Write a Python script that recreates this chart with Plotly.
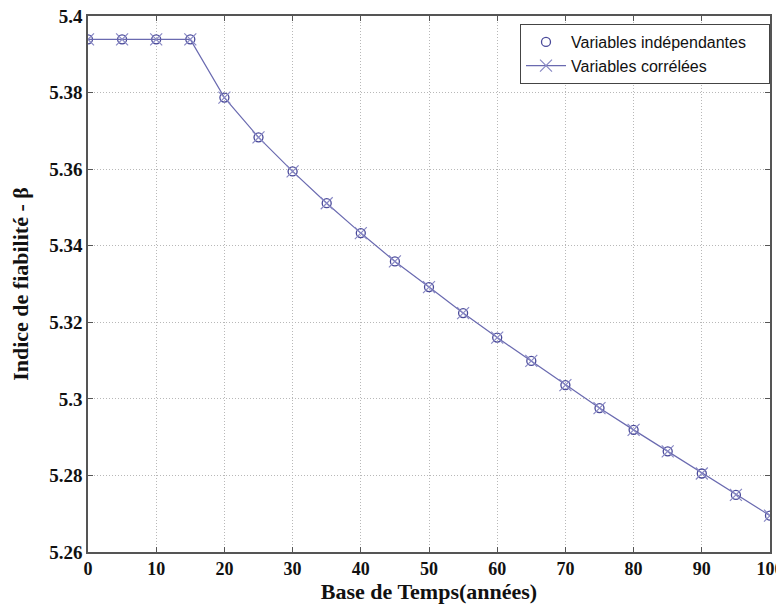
import plotly.graph_objects as go

annees = [0, 5, 10, 15, 20, 25, 30, 35, 40, 45, 50, 55, 60, 65, 70, 75, 80, 85, 90, 95, 100]
beta_indep = [5.3939, 5.3939, 5.3939, 5.3939, 5.3787, 5.3683, 5.3594, 5.3511, 5.3433, 5.3359,
              5.3292, 5.3224, 5.3160, 5.3099, 5.3036, 5.2976, 5.2919, 5.2863, 5.2805, 5.2749, 5.2695]
beta_corr = [5.3939, 5.3939, 5.3939, 5.3939, 5.3787, 5.3683, 5.3594, 5.3511, 5.3433, 5.3359,
             5.3292, 5.3224, 5.3160, 5.3099, 5.3036, 5.2976, 5.2919, 5.2863, 5.2805, 5.2749, 5.2695]
x_ticks = [0, 10, 20, 30, 40, 50, 60, 70, 80, 90, 100]
y_ticks = [5.26, 5.28, 5.30, 5.32, 5.34, 5.36, 5.38, 5.40]
y_ticktext = ["5.26", "5.28", "5.3", "5.32", "5.34", "5.36", "5.38", "5.4"]

SERIF = "Liberation Serif, Times New Roman, serif"
PAD = "\u00a0\u00a0\u00a0\u00a0"

fig = go.Figure()
fig.add_trace(go.Scatter(
    x=annees, y=beta_indep, mode="markers", name="Variables indépendantes" + PAD,
    marker=dict(symbol="circle-open", size=9, color="#4a4a9a", line=dict(width=1.3)),
))
fig.add_trace(go.Scatter(
    x=annees, y=beta_corr, mode="lines+markers", name="Variables corrélées",
    line=dict(color="#6a6ab0", width=1.2),
    marker=dict(symbol="x-thin-open", size=12, color="#8888c4", line=dict(width=1.2, color="#8888c4")),
))

axis_common = dict(
    showline=True, linecolor="#555555", linewidth=1.5, mirror="ticks",
    ticks="inside", ticklen=5, tickcolor="#555555",
    showgrid=True, gridcolor="#b8b8b8", griddash="1px,2px", gridwidth=1,
    zeroline=False, automargin=False, ticklabeloverflow="allow",
)

fig.update_xaxes(
    range=[0, 100], tickvals=x_ticks,
    tickfont=dict(family=SERIF, size=18, color="#111111", weight="bold"),
    title=dict(text="Base de Temps(années)", standoff=9,
               font=dict(family=SERIF, size=22, color="#111111", weight="bold")),
    **axis_common,
)
fig.update_yaxes(
    range=[5.26, 5.40], tickvals=y_ticks, ticktext=y_ticktext,
    tickfont=dict(family=SERIF, size=19, color="#111111", weight="bold"),
    title=dict(text="Indice de fiabilité - β", standoff=29,
               font=dict(family=SERIF, size=22, color="#111111", weight="bold")),
    **axis_common,
)

fig.update_layout(
    width=776, height=596,
    margin=dict(l=80, r=14, t=8, b=52),
    plot_bgcolor="white", paper_bgcolor="white",
    showlegend=True,
    legend=dict(
        x=1, y=1 - 8 / 536, xanchor="right", yanchor="top",
        bgcolor="white", bordercolor="#444444", borderwidth=1,
        font=dict(family="Liberation Sans, Arial, sans-serif", size=16, color="#111111"),
        tracegroupgap=0, itemwidth=40,
    ),
)

fig.write_html("out.html")
